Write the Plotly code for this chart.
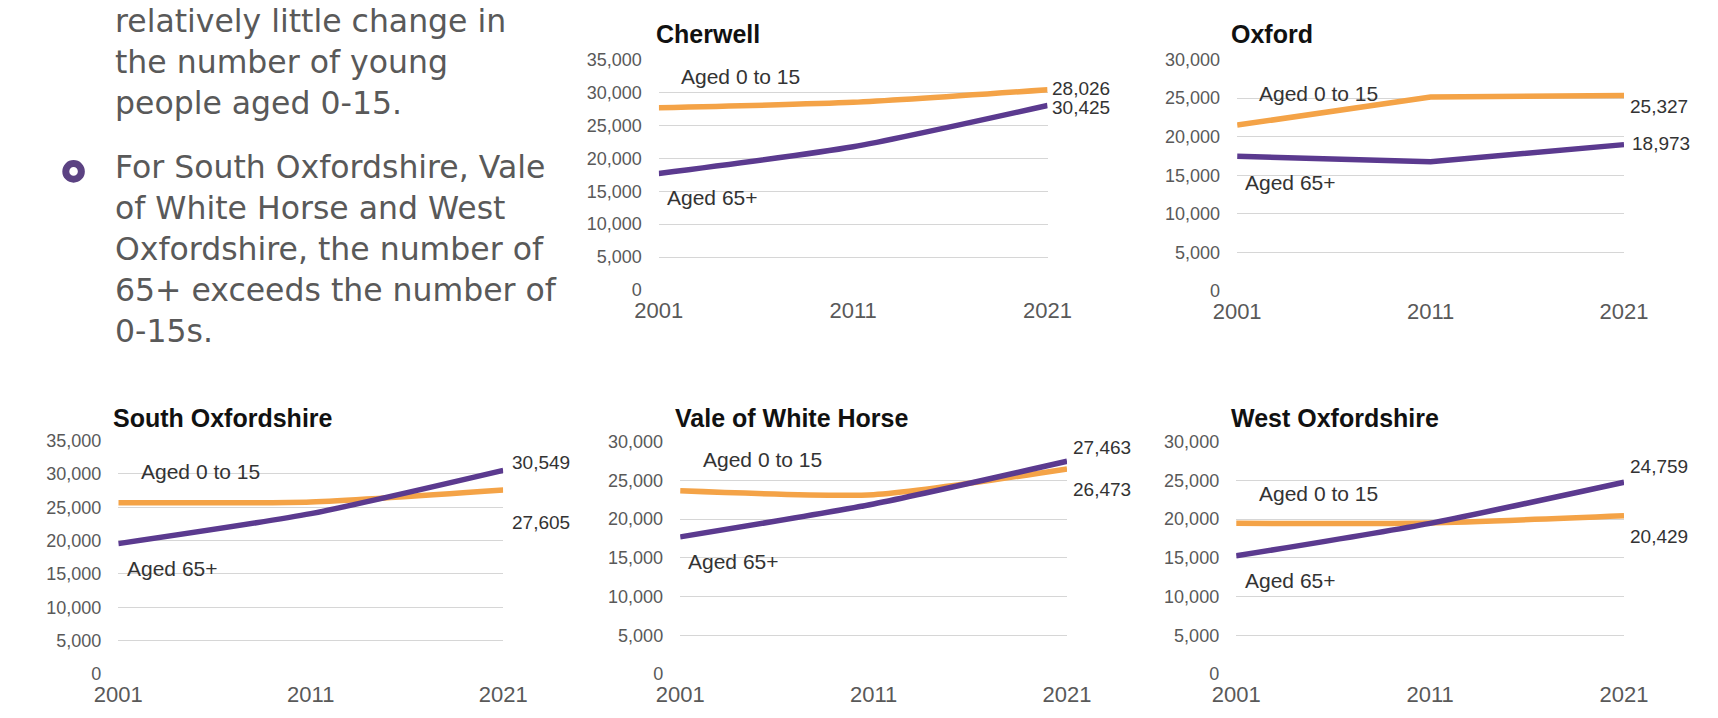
import plotly.graph_objects as go

W, H = 1718, 718

years = [2001, 2011, 2021]
year_labels = ["2001", "2011", "2021"]

districts = ["Cherwell", "Oxford", "South Oxfordshire", "Vale of White Horse", "West Oxfordshire"]

# population estimates (2021 from the printed labels)
cherwell_0_15 = [27700, 28500, 30425]
cherwell_65 = [17700, 21750, 28026]
oxford_0_15 = [21500, 25150, 25327]
oxford_65 = [17450, 16750, 18973]
south_0_15 = [25700, 25800, 27605]
south_65 = [19550, 24050, 30549]
vale_0_15 = [23650, 23150, 26473]
vale_65 = [17700, 21950, 27463]
west_0_15 = [19450, 19500, 20429]
west_65 = [15250, 19450, 24759]

y_max = [35000, 30000, 35000, 30000, 30000]
end_label_top = ["28,026", "25,327", "30,549", "27,463", "24,759"]
end_label_bottom = ["30,425", "18,973", "27,605", "26,473", "20,429"]

series_0_15 = [cherwell_0_15, oxford_0_15, south_0_15, vale_0_15, west_0_15]
series_65 = [cherwell_65, oxford_65, south_65, vale_65, west_65]

bullet_text_1 = ["relatively little change in", "the number of young", "people aged 0-15."]
bullet_text_2 = ["For South Oxfordshire, Vale", "of White Horse and West",
                 "Oxfordshire, the number of", "65+ exceeds the number of", "0-15s."]

ORANGE = "#F4A347"
PURPLE = "#5B3A8F"
GREY = "#595959"
GRID = "#D6D6D6"

# pixel boxes of each plot area: x left, x right, y top, y bottom
boxes = [
    (653, 1053, 51, 288),
    (1248, 1646, 51, 289),
    (97, 493, 443, 683),
    (675, 1073, 444, 683),
    (1247, 1646, 444, 683),
]
# title, series-label and end-label pixel positions
title_pos = [(648, 25), (1240, 25), (90, 420), (668, 420), (1240, 420)]
lab015_pos = [(674, 68), (1268, 86), (118, 475), (696, 462), (1268, 497)]
lab65_pos = [(659, 193), (1254, 177), (104, 575), (681, 567), (1254, 587)]
endtop_pos = [(1055, 81), (1650, 99), (500, 465), (1077, 450), (1650, 470)]
endbot_pos = [(1055, 100), (1652, 137), (500, 527), (1077, 493), (1650, 542)]
spline = [True, False, True, True, True]


def px(x):
    return x / W


def py(y):
    return 1 - y / H


fig = go.Figure()
annotations = []
layout = {}

for i, name in enumerate(districts):
    n = "" if i == 0 else str(i + 1)
    xl, xr, yt, yb = boxes[i]
    shape = "spline" if spline[i] else "linear"
    fig.add_trace(go.Scatter(
        x=years, y=series_0_15[i], mode="lines", xaxis="x" + n, yaxis="y" + n,
        line=dict(color=ORANGE, width=5.5, shape=shape, smoothing=0.6),
        showlegend=False, hoverinfo="x+y",
    ))
    fig.add_trace(go.Scatter(
        x=years, y=series_65[i], mode="lines", xaxis="x" + n, yaxis="y" + n,
        line=dict(color=PURPLE, width=5.5, shape=shape, smoothing=0.6),
        showlegend=False, hoverinfo="x+y",
    ))
    layout["xaxis" + n] = dict(
        domain=[px(xl), px(xr)], anchor="y" + n, range=[2001, 2021],
        tickvals=years, ticktext=year_labels, showgrid=False, zeroline=False,
        showline=False, ticks="", ticklabelstandoff=5,
        tickfont=dict(family="Liberation Sans, Arial", size=22, color=GREY),
        fixedrange=True,
    )
    layout["yaxis" + n] = dict(
        domain=[py(yb), py(yt)], anchor="x" + n, range=[0, y_max[i]], dtick=5000,
        tickformat=",", showgrid=True, gridcolor=GRID, gridwidth=1.4,
        zeroline=False, showline=False, ticks="", ticklabelstandoff=16,
        tickfont=dict(family="Liberation Sans, Arial", size=18, color=GREY),
        fixedrange=True,
    )
    annotations.append(dict(
        text="<b>" + name + "</b>", x=px(title_pos[i][0]), y=py(title_pos[i][1]),
        xref="paper", yref="paper", xanchor="left", yanchor="middle", showarrow=False,
        font=dict(family="Liberation Sans, Arial", size=25, color="#111111"),
    ))
    for text, pos, size in (("Aged 0 to 15", lab015_pos[i], 21), ("Aged 65+", lab65_pos[i], 21),
                            (end_label_top[i], endtop_pos[i], 19),
                            (end_label_bottom[i], endbot_pos[i], 19)):
        annotations.append(dict(
            text=text, x=px(pos[0]), y=py(pos[1]), xref="paper", yref="paper",
            xanchor="left", yanchor="middle", showarrow=False,
            font=dict(family="Liberation Sans, Arial", size=size, color="#333333"),
        ))

# slide text on the left, one block per paragraph
annotations.append(dict(
    text="<br>".join(bullet_text_1), x=px(92), y=py(54), xref="paper", yref="paper",
    xanchor="left", yanchor="middle", align="left", showarrow=False,
    font=dict(family="DejaVu Sans", size=31.5, color=GREY),
))
annotations.append(dict(
    text="<br>".join(bullet_text_2), x=px(92), y=py(246), xref="paper", yref="paper",
    xanchor="left", yanchor="middle", align="left", showarrow=False,
    font=dict(family="DejaVu Sans", size=31.5, color=GREY),
))

shapes = [dict(
    type="circle", xref="paper", yref="paper",
    x0=px(43), x1=px(59), y0=py(174), y1=py(158),
    line=dict(color="#5B4282", width=7), fillcolor="rgba(0,0,0,0)",
)]

fig.update_layout(
    width=W, height=H, margin=dict(l=0, r=0, t=0, b=0),
    paper_bgcolor="white", plot_bgcolor="white",
    annotations=annotations, shapes=shapes, **layout,
)

fig.write_html("out.html", config={"displayModeBar": False},
               post_script="document.body.style.margin='0';")
